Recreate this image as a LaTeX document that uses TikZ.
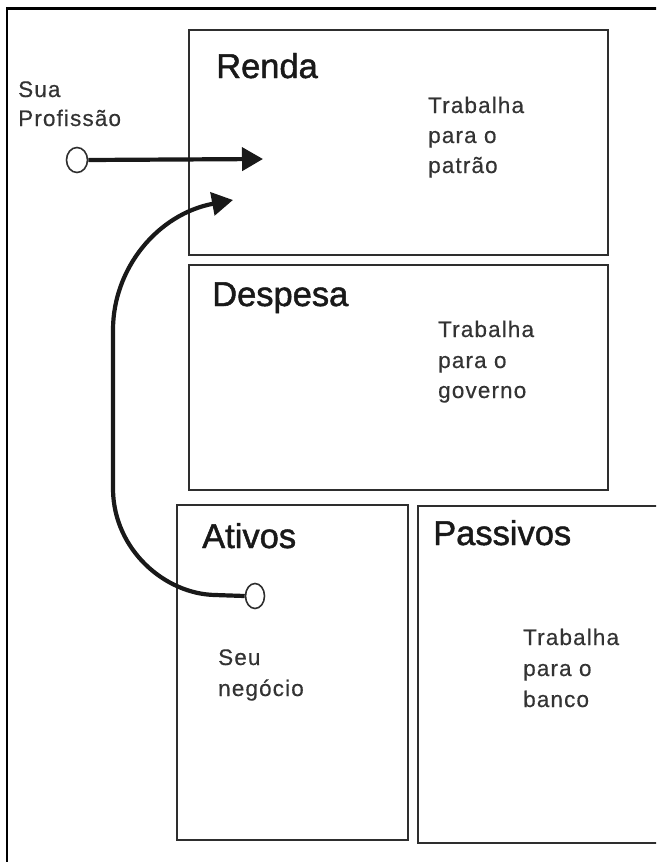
\documentclass[tikz,border=0pt]{standalone}
\usepackage{fontspec}
\setmainfont{Liberation Sans}
\newfontfamily\bodyfont[LetterSpace=5,FakeBold=0.4]{Liberation Sans}
\newfontfamily\titlefont[FakeBold=1.4]{Liberation Sans}
\usetikzlibrary{arrows.meta,shapes.geometric}
\definecolor{boxgray}{HTML}{2E2E2E}
\definecolor{textgray}{HTML}{333333}
\tikzset{
  boxline/.style={draw=boxgray, line width=1.6pt},
  bodytext/.style={anchor=base west, inner sep=0pt, text=textgray, font=\bodyfont\fontsize{22.5}{26}\selectfont},
  titletext/.style={anchor=base west, inner sep=0pt, text=black!90, font=\titlefont\fontsize{34.5}{40}\selectfont},
  ring/.style={ellipse, draw=boxgray, fill=white, line width=1.6pt, minimum width=21pt, minimum height=25pt, inner sep=0pt},
  flow/.style={line width=4.2pt, black!90, -{Triangle[length=21pt,width=23pt]}},
}
\begin{document}
\begin{tikzpicture}[x=1pt,y=-1pt]
\path[use as bounding box] (0,0) rectangle (656,862);
\clip (0,0) rectangle (656,862);
% outer frame (left and top visible)
\draw[line width=2.6pt, black] (7,880) -- (7,8.5) -- (680,8.5);
% boxes
\draw[boxline] (189,30) rectangle (608,255);
\draw[boxline] (189,265) rectangle (608,490);
\draw[boxline] (177,505) rectangle (408,840);
\draw[boxline] (418,506) rectangle (668,843);
% titles
\node[titletext] (trenda) at (216,78) {Renda};
\node[titletext] (tdesp) at (212,306) {Despesa};
\node[titletext] (tativ) at (202,548) {Ativos};
\node[titletext] (tpass) at (433,545) {Passivos};
% body texts
\node[bodytext] (sua1) at (18,97) {Sua};
\node[bodytext] (sua2) at (18,126) {Profissão};
\node[bodytext] (r1) at (428,113) {Trabalha};
\node[bodytext] (r2) at (428,143) {para o};
\node[bodytext] (r3) at (428,173) {patrão};
\node[bodytext] (d1) at (438,337) {Trabalha};
\node[bodytext] (d2) at (438,368) {para o};
\node[bodytext] (d3) at (438,398) {governo};
\node[bodytext] (a1) at (218,665) {Seu};
\node[bodytext] (a2) at (218,696) {negócio};
\node[bodytext] (p1) at (523,645) {Trabalha};
\node[bodytext] (p2) at (523,676) {para o};
\node[bodytext] (p3) at (523,707) {banco};
% connectors
\node[ring] (prof) at (77,160) {};
\node[ring, minimum width=19pt] (neg) at (255,596) {};
\coordinate (tip1) at (263,159);
\coordinate (tip2) at (233,200);
\draw[flow] (prof.east) -- (tip1);
\draw[flow] (neg.west) -- (215,595)
  .. controls (165,594) and (114,550) .. (113,490)
  -- (113,330)
  .. controls (113,268) and (158,214) .. (tip2);
\end{tikzpicture}
\end{document}
